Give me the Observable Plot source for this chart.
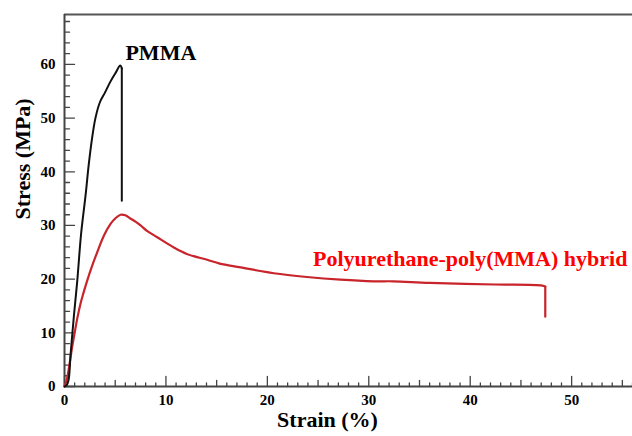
<!DOCTYPE html>
<html>
<head>
<meta charset="utf-8">
<script src="https://cdn.jsdelivr.net/npm/d3@7"></script>
<script src="https://cdn.jsdelivr.net/npm/@observablehq/plot@0.6"></script>
<style>
  html, body { margin: 0; padding: 0; background: #fff; }
</style>
</head>
<body>
<div id="chart"></div>
<script>
// ---- data (strain %, stress MPa) ----
const pmmaStrain = [0, 0.2, 0.4, 0.6, 0.92, 1.25, 1.64, 2.07, 2.4, 2.7, 3.05, 3.5, 4.0, 4.5, 5.0, 5.5, 5.65, 5.65];
const pmmaStress = [0, 0.2, 1.2, 6.0, 13.0, 19.5, 28.5, 35.5, 41.5, 46.0, 50.0, 53.0, 54.8, 56.7, 58.3, 59.8, 59.3, 34.6];

const hybridStrain = [0, 0.25, 0.5, 0.75, 1.0, 1.25, 1.6, 1.85, 2.07, 2.56, 3.22, 3.88, 4.54, 5.0, 5.52, 6.0, 6.5, 7.0, 7.5, 8.13, 9.14, 10.78, 12.06, 14.07, 15.3, 17.36, 20.64, 23.9, 27.2, 30.5, 32.4, 36, 42.4, 47.1, 47.4, 47.4];
const hybridStress = [0, 1.5, 4.2, 7.3, 10.0, 12.6, 15.6, 17.3, 18.7, 21.6, 25.0, 28.1, 30.3, 31.3, 32.0, 31.9, 31.3, 30.7, 30.0, 29.0, 27.8, 25.9, 24.7, 23.6, 22.9, 22.2, 21.1, 20.4, 19.9, 19.6, 19.6, 19.3, 19.0, 18.8, 18.6, 13.0];

const seriesNames = ["PMMA", "Polyurethane-poly(MMA) hybrid"];
const labelStrain = [9.5, 40.0];
const labelStress = [62.2, 23.8];

const xDomain = [0, 56];
const yDomain = [0, 69.3];
const xTickLabels = [0, 10, 20, 30, 40, 50];
const yTickLabels = [0, 10, 20, 30, 40, 50, 60];
const xAxisTitle = "Strain (%)";
const yAxisTitle = "Stress (MPa)";

// ---- build tables ----
const pmma = pmmaStrain.map((x, i) => ({x, y: pmmaStress[i]}));
const hybrid = hybridStrain.map((x, i) => ({x, y: hybridStress[i]}));
// smooth body up to the break, straight vertical drop after it
const pmmaBody = pmma.slice(0, -1), pmmaDrop = pmma.slice(-2);
const hybridBody = hybrid.slice(0, -1), hybridDrop = hybrid.slice(-2);
const labels = seriesNames.map((name, i) => ({name, x: labelStrain[i], y: labelStress[i]}));

const xMinor = d3.range(xDomain[0], xDomain[1] + 0.001, 1).filter(d => d % 5 !== 0);
const xMid = d3.range(xDomain[0], xDomain[1] + 0.001, 5).filter(d => d % 10 !== 0);
const xMajor = d3.range(xDomain[0], xDomain[1] + 0.001, 10);
const yMinor = d3.range(yDomain[0], yDomain[1], 2).filter(d => d % 10 !== 0);
const yMajor = d3.range(yDomain[0], yDomain[1], 10);

const tickShape = { draw(context, l) { context.moveTo(0, 0); context.lineTo(0, -l); } };
const axisColor = "#444";

const xTicks = (data, len) => Plot.vector(data, {x: d => d, y: yDomain[0], length: len, rotate: 0, anchor: "start", shape: tickShape, stroke: axisColor, strokeWidth: 1.3});
const yTicks = (data, len) => Plot.vector(data, {x: xDomain[0], y: d => d, length: len, rotate: 90, anchor: "start", shape: tickShape, stroke: axisColor, strokeWidth: 1.3});

const red = "#c8242b";

const chart = Plot.plot({
  width: 632,
  height: 436,
  marginLeft: 64,
  marginRight: 0,
  marginTop: 14,
  marginBottom: 50,
  style: {
    fontFamily: "'Liberation Serif', 'Times New Roman', serif",
    fontWeight: "bold",
    fontSize: "15px",
    background: "#fff",
    color: "#000"
  },
  x: {domain: xDomain},
  y: {domain: yDomain},
  marks: [
    Plot.axisX({ticks: xTickLabels, tickSize: 0, tickPadding: 8, tickFormat: d => String(d), label: null, fontSize: 15, fill: "#000"}),
    Plot.axisY({ticks: yTickLabels, tickSize: 0, tickPadding: 9, tickFormat: d => String(d), label: null, fontSize: 15, fill: "#000"}),
    xTicks(xMinor, 3.5), xTicks(xMid, 6), xTicks(xMajor, 10),
    yTicks(yMinor, 5), yTicks(yMajor, 10),
    Plot.ruleY([yDomain[1]], {stroke: "#555", strokeWidth: 2}),
    Plot.ruleX([xDomain[0]], {stroke: axisColor, strokeWidth: 2}),
    Plot.ruleY([yDomain[0]], {stroke: axisColor, strokeWidth: 2}),
    Plot.line(hybridBody, {x: "x", y: "y", stroke: red, strokeWidth: 2.2, curve: "catmull-rom"}),
    Plot.line(hybridDrop, {x: "x", y: "y", stroke: red, strokeWidth: 2.2}),
    Plot.line(pmmaBody, {x: "x", y: "y", stroke: "#111", strokeWidth: 2, curve: "catmull-rom"}),
    Plot.line(pmmaDrop, {x: "x", y: "y", stroke: "#111", strokeWidth: 2}),
    Plot.text(labels, {x: "x", y: "y", text: "name", fill: (d, i) => i === 0 ? "#000" : "#ff0000", fontSize: 22, fontWeight: "bold", textAnchor: "middle"}),
    Plot.text([xAxisTitle], {frameAnchor: "bottom", dx: -21, dy: 40, fontSize: 22, fontWeight: "bold", fill: "#000"}),
    Plot.text([yAxisTitle], {frameAnchor: "left", dx: -42, dy: 19, rotate: -90, fontSize: 22, fontWeight: "bold", fill: "#000"})
  ]
});
document.getElementById("chart").appendChild(chart);
</script>
</body>
</html>
